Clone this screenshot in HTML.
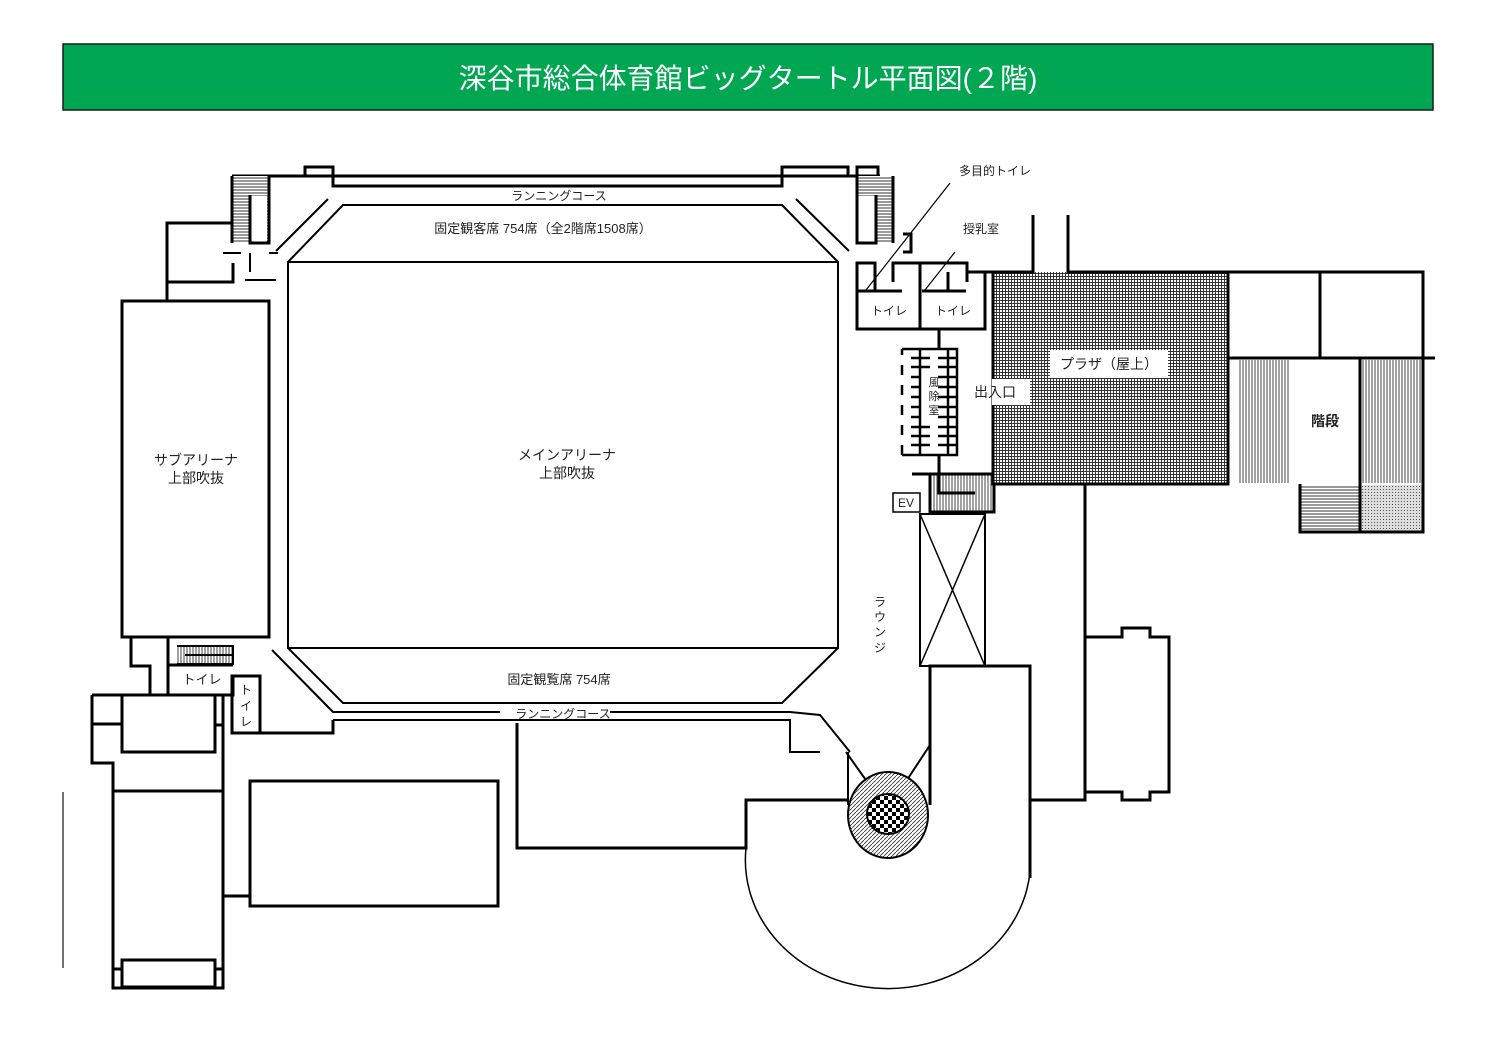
<!DOCTYPE html>
<html><head><meta charset="utf-8"><style>
html,body{margin:0;padding:0;background:#fff;}
svg{display:block;}
text{font-family:"Liberation Sans","Noto Sans CJK JP",sans-serif;fill:#222;}
</style></head><body>
<svg width="1496" height="1058" viewBox="0 0 1496 1058" xmlns="http://www.w3.org/2000/svg">
<defs>
<pattern id="hh" width="4" height="3" patternUnits="userSpaceOnUse"><rect width="4" height="3" fill="#fff"/><line x1="0" y1="1" x2="4" y2="1" stroke="#333" stroke-width="1"/></pattern>
<pattern id="vv" width="3" height="4" patternUnits="userSpaceOnUse"><rect width="3" height="4" fill="#fff"/><line x1="1" y1="0" x2="1" y2="4" stroke="#444" stroke-width="1"/></pattern>
<pattern id="grid" width="3" height="3" patternUnits="userSpaceOnUse"><rect width="3" height="3" fill="#fff"/><path d="M0 0.5H3M0.5 0V3" stroke="#333" stroke-width="1"/></pattern>
<pattern id="dot" width="3" height="3" patternUnits="userSpaceOnUse"><rect width="3" height="3" fill="#ddd"/><rect width="1" height="1" fill="#555"/></pattern>
<pattern id="diag" width="4" height="4" patternUnits="userSpaceOnUse"><rect width="4" height="4" fill="#fff"/><path d="M0 4L4 0" stroke="#333" stroke-width="0.8"/></pattern>
<pattern id="chk" width="8" height="8" patternUnits="userSpaceOnUse"><rect width="8" height="8" fill="#fff"/><rect width="4" height="4" fill="#000"/><rect x="4" y="4" width="4" height="4" fill="#000"/></pattern>
</defs>

<rect x="63" y="44" width="1370" height="66" fill="#00a651" stroke="#1a1a1a" stroke-width="1.5"/>
<text x="748" y="88" font-size="28" text-anchor="middle" style="fill:#fff">深谷市総合体育館ビッグタートル平面図(２階)</text>

<g fill="none" stroke="#000" stroke-width="3">
<path d="M232 176H880"/>
<path d="M305 176V167H333V186H782V167H848V176"/>
<path d="M857 176V167H878V176"/>
<rect x="232" y="176" width="37" height="67" fill="url(#hh)" stroke="none"/>
<rect x="250" y="196" width="17" height="46" fill="#fff" stroke="none"/>
<path d="M232 176V243M269 176V243H250V195"/>
<rect x="857" y="176" width="36" height="67" fill="url(#hh)" stroke="none"/>
<rect x="858" y="196" width="18" height="46" fill="#fff" stroke="none"/>
<path d="M857 176V243H876V195M893 176V243"/>
<path d="M232 223H167V300M167 282H233V263"/>
<path d="M223 253H241M269 253H278M250 253V272" stroke-width="2"/>
<rect x="122" y="301" width="147" height="336"/>
</g>

<g fill="none" stroke="#000" stroke-width="2">
<path d="M288 262L343 205H782L838 262"/>
<path d="M276 251L328 199M796 199L849 251"/>
<path d="M245 280H276"/>
<rect x="288" y="262" width="550" height="386"/>
<path d="M288 648L343 703H782L838 648"/>
<path d="M272 650L333 712H500M610 712H790L820 715L850 752"/>
<path d="M333 720H790V752H820"/>
<path d="M868 783L846 752"/>
<path d="M930 745L905 783"/>
<path d="M848 752V805"/>
</g>
<g fill="none" stroke="#000" stroke-width="3">
<path d="M333 720V733H232V676H260V733"/>
<path d="M131 637V666H150V695M168 637V695M168 665H233"/>
<path d="M92 695H233V676M92 695V763H113V988H223V695"/>
<path d="M92 724H122"/>
<rect x="122" y="695" width="93" height="57"/>
<path d="M215 695V725H223"/>
<path d="M113 791H223"/>
<rect x="122" y="960" width="93" height="27"/>
<path d="M113 969H122M215 969H223"/>
<rect x="250" y="781" width="248" height="125"/>
<path d="M223 896H250"/>
<path d="M517 723V848H746V800H848"/>
<path d="M930 805V666H1030V800H1085V484"/>
<path d="M1030 666V878"/>
</g>
<rect x="177" y="646" width="56" height="18" fill="url(#vv)" stroke="none"/>
<path d="M177 646H233V664H177M185 655H233" stroke="#000" stroke-width="2" fill="none"/>
<line x1="63" y1="792" x2="63" y2="968" stroke="#444" stroke-width="1.5"/>
<path d="M746 848A142 128 0 0 0 1030 872" stroke="#000" stroke-width="1.5" fill="none"/>

<ellipse cx="888" cy="815" rx="40" ry="43" fill="url(#diag)" stroke="#000" stroke-width="2"/>
<ellipse cx="888" cy="814" rx="21" ry="20" fill="url(#chk)" stroke="#000" stroke-width="2"/>

<path d="M1085 637H1122V628H1150V637H1169V792H1150V800H1122V792H1085" fill="none" stroke="#000" stroke-width="3"/>

<rect x="920" y="514" width="65" height="152" fill="none" stroke="#000" stroke-width="2"/>
<path d="M920 514L985 666M985 514L920 666" stroke="#000" stroke-width="1.5"/>
<rect x="930" y="474" width="64" height="38" fill="url(#vv)" stroke="#000" stroke-width="3"/>
<path d="M912 474H994M939 455V493H975" stroke="#000" stroke-width="3" fill="none"/>
<rect x="893" y="493" width="27" height="19" fill="#fff" stroke="#000" stroke-width="1.5"/>
<text x="906" y="507" font-size="12" text-anchor="middle">EV</text>

<rect x="993" y="272" width="235" height="212" fill="url(#grid)"/>
<g fill="none" stroke="#000" stroke-width="3">
<path d="M967 272H1033V215M1068 215V272H1423V358H1228V272M1320 272V358M1228 358V484H993V272"/>
<path d="M1423 358H1435"/>
</g>
<rect x="1238" y="360" width="52" height="123" fill="url(#vv)"/>
<rect x="1360" y="360" width="62" height="123" fill="url(#vv)"/>
<rect x="1300" y="485" width="60" height="47" fill="url(#hh)"/>
<rect x="1360" y="485" width="62" height="47" fill="url(#dot)"/>
<path d="M1423 358V532H1300V484M1360 358V532" stroke="#000" stroke-width="3" fill="none"/>
<text x="1325" y="426" font-size="14" text-anchor="middle" font-weight="bold">階段</text>
<rect x="1050" y="350" width="118" height="28" fill="#fff"/>
<text x="1109" y="369" font-size="14" text-anchor="middle">プラザ（屋上）</text>
<rect x="992" y="379" width="38" height="26" fill="#fff"/>
<text x="995" y="397" font-size="14" text-anchor="middle">出入口</text>

<g fill="none" stroke="#000" stroke-width="3">
<path d="M875 291V263H857V329H985V272M893 282V263H920V329M920 263H967V282M857 291H902M922 291H966M948 272V291"/>
<path d="M939 329V349"/>
<path d="M903 234H911V252H903"/>
</g>
<text x="889" y="315" font-size="12" text-anchor="middle">トイレ</text>
<text x="953" y="315" font-size="12" text-anchor="middle">トイレ</text>
<path d="M950 183L866 290M955 252L925 290" stroke="#000" stroke-width="1.2"/>
<text x="995" y="175" font-size="12" text-anchor="middle">多目的トイレ</text>
<text x="981" y="233" font-size="12" text-anchor="middle">授乳室</text>

<rect x="902" y="349" width="55" height="106" fill="#fff"/>
<g stroke="#000" stroke-width="2.5" fill="none">
<path d="M902 349H957V455H902M920 349V455M948 349V455"/>
<path d="M902 349V355M902 365V375M902 385V395M902 405V415M902 425V435M902 445V455"/>
<path d="M911 358H930M938 358H957M911 367H930M938 367H957M938 377H957M911 377H920M911 387H920M938 387H957M911 397H920M938 397H957M911 407H920M938 407H957M911 417H920M938 417H957M911 427H930M938 427H957M911 436H930M938 436H957M911 445H930M938 445H957"/>
</g>
<text x="934" y="386" font-size="11" text-anchor="middle">風</text>
<text x="934" y="400" font-size="11" text-anchor="middle">除</text>
<text x="934" y="414" font-size="11" text-anchor="middle">室</text>

<rect x="500" y="188" width="120" height="14" fill="#fff"/>
<text x="559" y="200" font-size="12" text-anchor="middle">ランニングコース</text>
<text x="543" y="233" font-size="13" text-anchor="middle">固定観客席 754席（全2階席1508席）</text>
<text x="567" y="460" font-size="14" text-anchor="middle">メインアリーナ</text>
<text x="567" y="478" font-size="14" text-anchor="middle">上部吹抜</text>
<text x="196" y="465" font-size="14" text-anchor="middle">サブアリーナ</text>
<text x="196" y="483" font-size="14" text-anchor="middle">上部吹抜</text>
<text x="559" y="684" font-size="13" text-anchor="middle">固定観覧席 754席</text>
<text x="563" y="718" font-size="12" text-anchor="middle">ランニングコース</text>
<text x="202" y="684" font-size="13" text-anchor="middle">トイレ</text>
<text x="246" y="694" font-size="12" text-anchor="middle">ト</text>
<text x="246" y="710" font-size="12" text-anchor="middle">イ</text>
<text x="246" y="726" font-size="12" text-anchor="middle">レ</text>
<text x="880" y="606" font-size="12" text-anchor="middle">ラ</text>
<text x="880" y="621" font-size="12" text-anchor="middle">ウ</text>
<text x="880" y="636" font-size="12" text-anchor="middle">ン</text>
<text x="880" y="652" font-size="12" text-anchor="middle">ジ</text>
</svg>
</body></html>
